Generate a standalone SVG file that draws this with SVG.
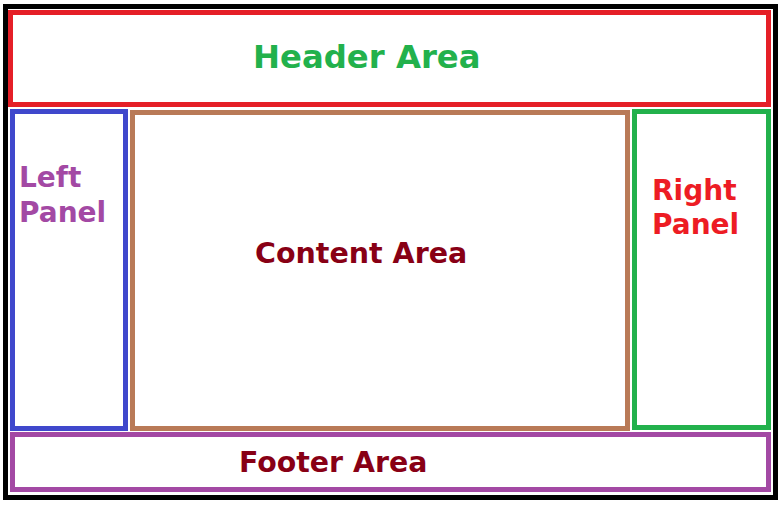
<svg xmlns="http://www.w3.org/2000/svg" width="783" height="506" viewBox="0 0 783 506">
<style>
.box{fill:none;stroke-width:5}
.t{font-family:"DejaVu Sans","Liberation Sans",sans-serif;font-weight:bold}
</style>
<rect width="783" height="506" fill="#ffffff"/>
<g id="frame"><rect x="5.5" y="6.5" width="770" height="491" fill="none" stroke="#000000" stroke-width="5"/></g>
<g id="header"><rect class="box" x="10.5" y="12.5" width="758" height="92" stroke="#E51F27"/>
<text class="t" x="253" y="68" font-size="32.3" fill="#22B14C">Header Area</text></g>
<g id="left"><rect class="box" x="12.5" y="111.5" width="113" height="317" stroke="#3F48CC"/>
<text class="t" font-size="28" fill="#A349A4"><tspan x="19" y="187">Left</tspan><tspan x="19" y="222">Panel</tspan></text></g>
<g id="content"><rect class="box" x="132.5" y="112.5" width="495" height="316" stroke="#B97A57"/>
<text class="t" x="255" y="263" font-size="28.5" fill="#880015">Content Area</text></g>
<g id="right"><rect class="box" x="634.5" y="111.5" width="134" height="316" stroke="#22B14C"/>
<text class="t" font-size="28" fill="#ED1C24"><tspan x="652" y="200">Right</tspan><tspan x="652" y="234">Panel</tspan></text></g>
<g id="footer"><rect class="box" x="12.5" y="434.5" width="756" height="55" stroke="#A349A4"/>
<text class="t" x="239" y="472" font-size="28.4" fill="#880015">Footer Area</text></g>
<g id="connectors"></g>
</svg>
